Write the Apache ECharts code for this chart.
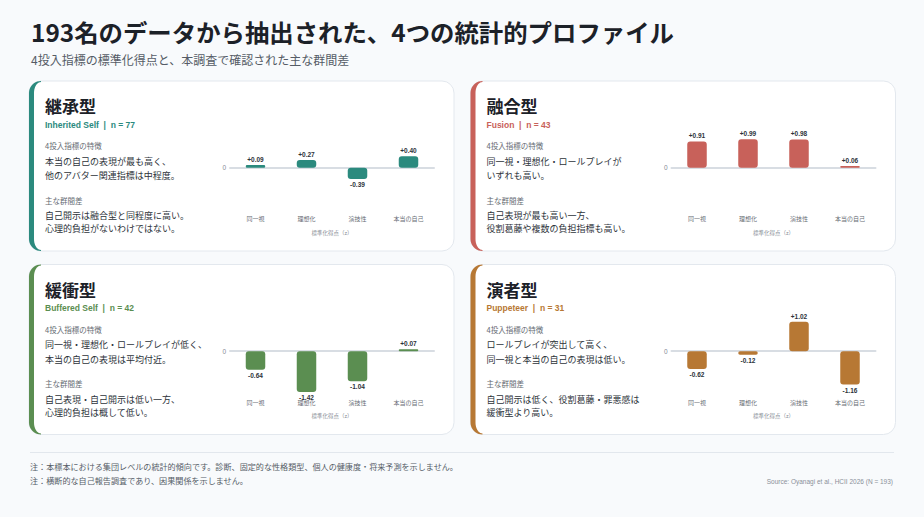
<!DOCTYPE html>
<html><head><meta charset="utf-8">
<script src="https://cdn.jsdelivr.net/npm/echarts@6/dist/echarts.min.js"></script>
<style>html,body{margin:0;padding:0;background:#f8fafc;}#c{width:924px;height:517px;}</style>
</head><body><div id="c"></div>
<script>
// ---- data ----
const categories = ['同一視', '理想化', '演技性', '本当の自己'];
const inheritedValues = [0.09, 0.27, -0.39, 0.40];
const fusionValues = [0.91, 0.99, 0.98, 0.06];
const bufferedValues = [-0.64, -1.42, -1.04, 0.07];
const puppeteerValues = [-0.62, -0.12, 1.02, -1.16];
const yTickLabels = ['0'];

const profileNames = ['継承型', '融合型', '緩衝型', '演者型'];
const profileLabels = ['Inherited Self  |  n = 77', 'Fusion  |  n = 43', 'Buffered Self  |  n = 42', 'Puppeteer  |  n = 31'];
const traitTexts = [
  ['本当の自己の表現が最も高く、', '他のアバター関連指標は中程度。'],
  ['同一視・理想化・ロールプレイが', 'いずれも高い。'],
  ['同一視・理想化・ロールプレイが低く、', '本当の自己の表現は平均付近。'],
  ['ロールプレイが突出して高く、', '同一視と本当の自己の表現は低い。']
];
const diffTexts = [
  ['自己開示は融合型と同程度に高い。', '心理的負担がないわけではない。'],
  ['自己表現が最も高い一方、', '役割葛藤や複数の負担指標も高い。'],
  ['自己表現・自己開示は低い一方、', '心理的負担は概して低い。'],
  ['自己開示は低く、役割葛藤・罪悪感は', '緩衝型より高い。']
];
const profileColors = ['#2b8a7e', '#c8615a', '#5b8e51', '#b77834'];
const profileValues = [inheritedValues, fusionValues, bufferedValues, puppeteerValues];
const titleText = '193名のデータから抽出された、4つの統計的プロファイル';
const subtitleText = '4投入指標の標準化得点と、本調査で確認された主な群間差';
const noteTexts = ['注：本標本における集団レベルの統計的傾向です。診断、固定的な性格類型、個人の健康度・将来予測を示しません。', '注：横断的な自己報告調査であり、因果関係を示しません。'];
const sourceText = 'Source: Oyanagi et al., HCII 2026 (N = 193)';
const axisNameText = '標準化得点（z）';

// ---- layout ----
const CJK = '"Noto Sans CJK JP", "Noto Sans", sans-serif';
const LAT = '"Liberation Sans", "Noto Sans CJK JP", sans-serif';
const cards = [[29, 81], [470.5, 81], [29, 264.5], [470.5, 264.5]];
const CW = 425, CH = 170;

function arcPts(cx, cy, rx, ry, a0, a1, n) {
  const pts = [];
  for (let k = 0; k <= n; k++) {
    const a = a0 + (a1 - a0) * k / n;
    pts.push([cx + rx * Math.cos(a), cy + ry * Math.sin(a)]);
  }
  return pts;
}
function stripPoints(x, y, h) {
  let pts = [];
  // outer top-left arc: from top (angle -90deg) to left (180deg)
  pts = pts.concat(arcPts(x + 12, y + 12, 12, 12, -Math.PI / 2, -Math.PI, 10));
  // outer bottom-left arc: from left (180) to bottom (90)
  pts = pts.concat(arcPts(x + 12, y + h - 12, 12, 12, Math.PI, Math.PI / 2, 10));
  // inner bottom arc back: from bottom (90) to left (180)
  pts = pts.concat(arcPts(x + 12, y + h - 12, 7, 11, Math.PI / 2, Math.PI, 10));
  // inner top arc: from left (180) to top (270)
  pts = pts.concat(arcPts(x + 12, y + 12, 7, 11, Math.PI, Math.PI * 1.5, 10));
  return pts;
}

const elements = [];
elements.push({type:'text', x:31, y:31, z:10, style:{text:titleText, font:'bold 24.4px ' + CJK, fill:'#1c2128', verticalAlign:'middle'}});
elements.push({type:'text', x:31, y:59.5, z:10, style:{text:subtitleText, font:'12px ' + CJK, fill:'#555c66', verticalAlign:'middle'}});

cards.forEach(([x, y], i) => {
  const col = profileColors[i];
  elements.push({type:'rect', z:-10, shape:{x:x, y:y, width:CW, height:CH, r:12}, style:{fill:'#ffffff', stroke:'#e3e8ee', lineWidth:1}});
  elements.push({type:'polygon', z:-9, shape:{points:stripPoints(x, y, CH)}, style:{fill:col}});
  const tx = x + 16;
  elements.push({type:'text', x:tx, y:y+24.5, z:10, style:{text:profileNames[i], font:'bold 17px ' + CJK, fill:'#1c2128', verticalAlign:'middle'}});
  elements.push({type:'text', x:tx, y:y+43.5, z:10, style:{text:profileLabels[i], font:'bold 8.5px ' + LAT, fill:col, verticalAlign:'middle'}});
  elements.push({type:'text', x:tx, y:y+64.8, z:10, style:{text:'4投入指標の特徴', font:'7.5px ' + CJK, fill:'#666b73', verticalAlign:'middle'}});
  elements.push({type:'text', x:tx, y:y+80.3, z:10, style:{text:traitTexts[i][0], font:'9px ' + CJK, fill:'#2d333a', verticalAlign:'middle'}});
  elements.push({type:'text', x:tx, y:y+94.5, z:10, style:{text:traitTexts[i][1], font:'9px ' + CJK, fill:'#2d333a', verticalAlign:'middle'}});
  elements.push({type:'text', x:tx, y:y+119.3, z:10, style:{text:'主な群間差', font:'7.5px ' + CJK, fill:'#666b73', verticalAlign:'middle'}});
  elements.push({type:'text', x:tx, y:y+134.6, z:10, style:{text:diffTexts[i][0], font:'9px ' + CJK, fill:'#2d333a', verticalAlign:'middle'}});
  elements.push({type:'text', x:tx, y:y+147.8, z:10, style:{text:diffTexts[i][1], font:'9px ' + CJK, fill:'#2d333a', verticalAlign:'middle'}});
});

elements.push({type:'line', z:-10, shape:{x1:30, y1:452.5, x2:894, y2:452.5}, style:{stroke:'#e2e7ed', lineWidth:1}});
elements.push({type:'text', x:30, y:466, z:10, style:{text:noteTexts[0], font:'8.1px ' + CJK, fill:'#555c66', verticalAlign:'middle'}});
elements.push({type:'text', x:30, y:480.5, z:10, style:{text:noteTexts[1], font:'8.1px ' + CJK, fill:'#555c66', verticalAlign:'middle'}});
elements.push({type:'text', x:893, y:481.7, z:10, style:{text:sourceText, font:'6.5px ' + LAT, fill:'#8a9099', align:'right', verticalAlign:'middle'}});

const grids = [], xAxes = [], yAxes = [], series = [];
cards.forEach(([x, y], i) => {
  grids.push({left:x + 201, top:y + 43.5, width:204, height:86.4});
  xAxes.push({gridIndex:i, type:'category', data:categories, position:'bottom',
    axisLine:{show:true, onZero:true, lineStyle:{color:'#d8dde3', width:2}},
    axisTick:{show:false}, axisLabel:{show:false}});
  xAxes.push({gridIndex:i, type:'category', data:categories, position:'bottom',
    axisLine:{show:false, onZero:false}, axisTick:{show:false},
    axisLabel:{fontSize:6, color:'#666b73', margin:5, fontFamily:CJK},
    name:axisNameText, nameLocation:'middle', nameGap:19,
    nameTextStyle:{fontSize:5.5, color:'#858b94', fontFamily:CJK}});
  yAxes.push({gridIndex:i, type:'value', min:-1.5, max:1.5, interval:1.5,
    axisLine:{show:false}, axisTick:{show:false}, splitLine:{show:false},
    axisLabel:{formatter:v => (yTickLabels.indexOf(String(v)) >= 0 ? String(v) : ''), fontSize:6.5, color:'#858b94', margin:4, fontFamily:LAT}});
  series.push({type:'bar', xAxisIndex:2 * i, yAxisIndex:i, barWidth:19.5,
    data:profileValues[i].map(v => ({value:v, label:{position: v >= 0 ? 'top' : 'bottom'}})),
    itemStyle:{color:profileColors[i], borderRadius:3},
    label:{show:true, distance:2.5, fontSize:6.5, fontWeight:'bold', color:'#2d333a', fontFamily:LAT,
      formatter:p => (p.value > 0 ? '+' : '') + p.value.toFixed(2)},
    silent:true, animation:false});
});

const chart = echarts.init(document.getElementById('c'), null, {renderer:'svg', width:924, height:517});
chart.setOption({
  backgroundColor:'#f8fafc',
  animation:false,
  graphic:{elements:elements},
  grid:grids, xAxis:xAxes, yAxis:yAxes, series:series
});
</script></body></html>
